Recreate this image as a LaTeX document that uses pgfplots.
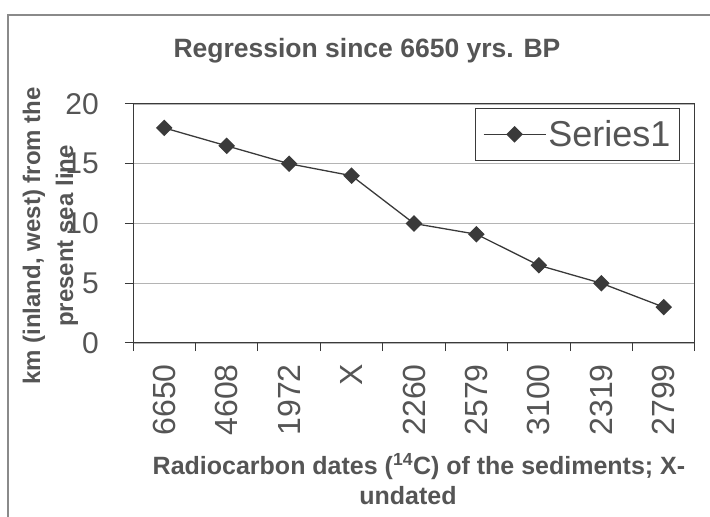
\documentclass[border=0pt]{standalone}
\usepackage{fontspec}
\setmainfont{Liberation Sans}
\usepackage{pgfplots}
\pgfplotsset{compat=1.18}
\definecolor{txt}{HTML}{555555}
\definecolor{ln}{HTML}{3A3A3A}
\definecolor{grd}{HTML}{B4B4B4}
\definecolor{frm}{HTML}{8A8A8A}
\begin{document}
\begin{tikzpicture}[x=1pt,y=1pt]
\useasboundingbox (0,0) rectangle (710,517);
\draw[frm, line width=1.2pt] (8,0) -- (8,502) -- (710,502);
\begin{axis}[
  at={(133pt,174pt)}, anchor=south west,
  scale only axis, width=562pt, height=239pt,
  xmin=-0.5, xmax=8.5, ymin=0, ymax=20,
  xtick={-0.5,0.5,...,8.5}, xticklabels={},
  extra x ticks={0,1,2,3,4,5,6,7,8},
  extra x tick labels={6650,4608,1972,X,2260,2579,3100,2319,2799},
  extra x tick style={major tick length=0pt, grid=none},
  ytick={0,5,10,15,20},
  xtick pos=bottom, ytick pos=left,
  tick align=outside, major tick length=8pt,
  tick style={ln, line width=1pt},
  axis line style={ln, line width=1pt},
  ymajorgrids, grid style={grd, line width=0.8pt},
  /pgf/number format/assume math mode=true,
  ticklabel style={text=txt},
  xticklabel style={rotate=90, anchor=east, inner sep=0pt, font=\fontsize{32}{32}\selectfont},
  yticklabel style={anchor=east, inner sep=0pt, font=\fontsize{30}{30}\selectfont},
  xticklabel shift=21pt,
  yticklabel shift=26pt,
  legend style={at={(0.973,0.983)}, anchor=north east, draw=ln, line width=1pt,
    font=\fontsize{36}{40}\selectfont, text=txt, inner xsep=7pt, inner ysep=10pt},
  legend image code/.code={\draw[mark repeat=2,mark phase=2,#1] plot coordinates {(0pt,0pt) (31pt,0pt) (62pt,0pt)};},
]
\addplot[ln, line width=1.3pt, mark=square*, mark size=5.2pt, mark options={rotate=45, fill=ln, solid}]
  coordinates {(0,18) (1,16.5) (2,15) (3,14) (4,10) (5,9.1) (6,6.5) (7,5) (8,3)};
\addlegendentry{Series1}
\end{axis}
\node[anchor=base, text=txt, font=\fontsize{26.5}{30}\selectfont\bfseries] at (367,459) {Regression since 6650 yrs. BP};
\node[rotate=90, anchor=base, text=txt, font=\fontsize{24}{28}\selectfont\bfseries] at (40,281) {km (inland, west) from the};
\node[rotate=90, anchor=base, text=txt, font=\fontsize{24}{28}\selectfont\bfseries] at (73,281) {present sea line};
\node[anchor=base, text=txt, font=\fontsize{25}{30}\selectfont\bfseries] at (419,42) {Radiocarbon dates (\textsuperscript{14}C) of the sediments; X-};
\node[anchor=base, text=txt, font=\fontsize{25}{30}\selectfont\bfseries] at (408,12) {undated};
\end{tikzpicture}
\end{document}
